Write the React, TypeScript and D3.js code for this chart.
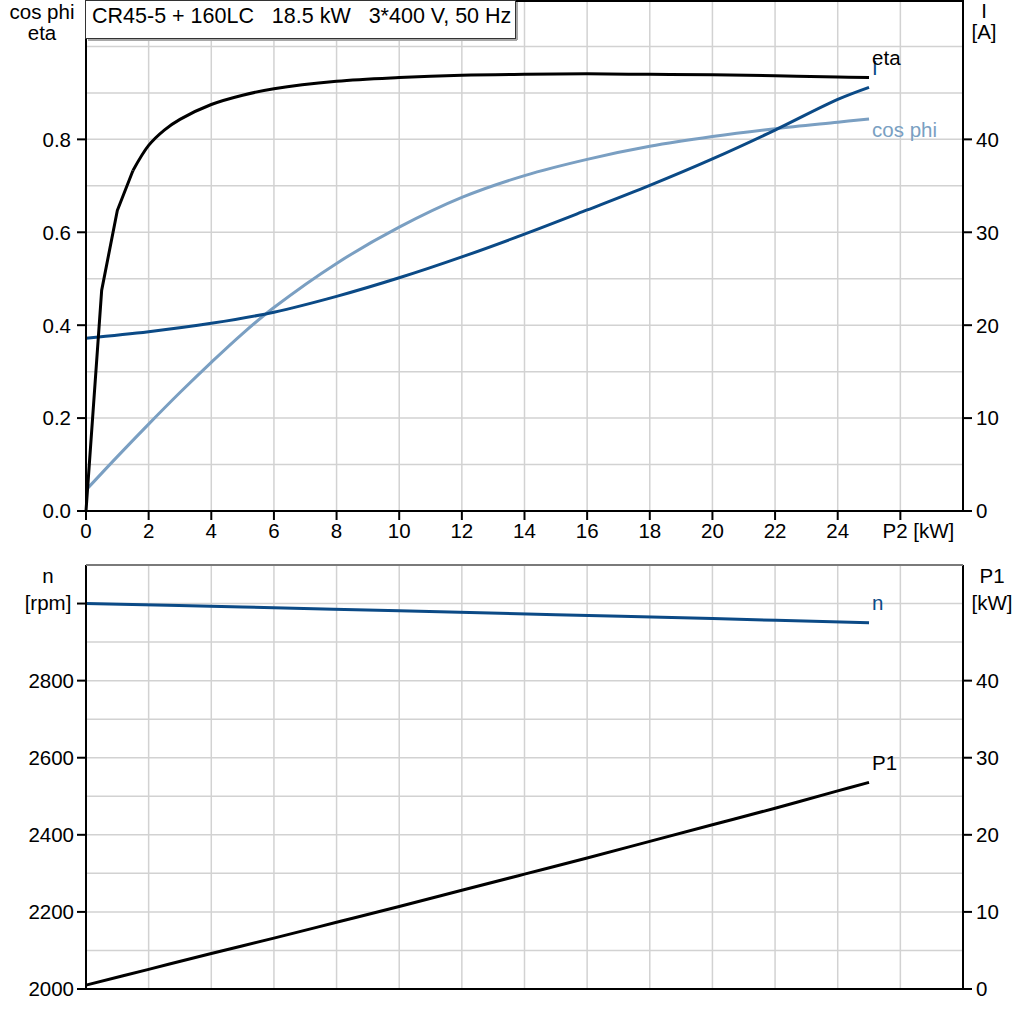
import * as d3 from 'd3'

const FONT = '"Liberation Sans", Arial, sans-serif'
const DARK = '#0b4a86'
const LIGHT = '#7a9fc2'
const GRID = '#d2d2d2'

const title = 'CR45-5 + 160LC   18.5 kW   3*400 V, 50 Hz'

// x axis (P2 in kW)
const xTicks = [0, 2, 4, 6, 8, 10, 12, 14, 16, 18, 20, 22, 24]
const xGrid = [2, 4, 6, 8, 10, 12, 14, 16, 18, 20, 22, 24, 26]

// top panel axes
const etaTicks = [0, 0.2, 0.4, 0.6, 0.8]
const etaGrid = [0.1, 0.2, 0.3, 0.4, 0.5, 0.6, 0.7, 0.8, 0.9, 1.0]
const currentTicks = [0, 10, 20, 30, 40]

// bottom panel axes
const rpmTicks = [2000, 2200, 2400, 2600, 2800]
const rpmGrid = [2100, 2200, 2300, 2400, 2500, 2600, 2700, 2800, 2900, 3000]
const p1Ticks = [0, 10, 20, 30, 40]

// eta curve
const etaP2 = [0, 0.5, 1, 1.5, 2, 2.5, 3, 4, 5, 6, 8, 10, 12, 14, 16, 18, 20, 22, 24, 25]
const etaVal = [0, 0.475, 0.647, 0.733, 0.787, 0.82, 0.843, 0.875, 0.895, 0.909, 0.925, 0.933, 0.938, 0.94, 0.941, 0.94, 0.939, 0.937, 0.934, 0.933]

// cos phi curve
const cosP2 = [0, 1, 2, 3, 4, 5, 6, 8, 10, 12, 14, 16, 18, 20, 22, 24, 25]
const cosVal = [0.045, 0.117, 0.187, 0.255, 0.32, 0.382, 0.438, 0.533, 0.611, 0.675, 0.722, 0.757, 0.785, 0.806, 0.823, 0.837, 0.844]

// current I [A]
const curP2 = [0, 2, 4, 6, 8, 10, 12, 14, 16, 18, 20, 22, 24, 25]
const curVal = [18.6, 19.3, 20.2, 21.4, 23.1, 25.1, 27.35, 29.8, 32.4, 35.05, 37.9, 41.0, 44.3, 45.6]

// speed n [rpm]
const nP2 = [0, 5, 10, 15, 20, 25]
const nVal = [3000, 2991, 2981, 2971, 2961, 2950]

// input power P1 [kW]
const p1P2 = [0, 2, 4, 6, 8, 10, 12, 14, 16, 18, 20, 22, 24, 25]
const p1Val = [0.5, 2.55, 4.6, 6.6, 8.65, 10.7, 12.8, 14.9, 17.0, 19.15, 21.3, 23.45, 25.7, 26.8]

const L = 86
const R = 963
const T1 = 0
const B1 = 511
const T2 = 565
const B2 = 989
const FS = 20.5

const x = d3.scaleLinear().domain([0, 28]).range([L, R])
const yEta = d3.scaleLinear().domain([0, 1.1]).range([B1, T1])
const yCur = d3.scaleLinear().domain([0, 55]).range([B1, T1])
const yN = d3.scaleLinear().domain([2000, 3100]).range([B2, T2])
const yP1 = d3.scaleLinear().domain([0, 55]).range([B2, T2])

function path(xs: number[], ys: number[], sy: d3.ScaleLinear<number, number>, curve: d3.CurveFactory = d3.curveCatmullRom) {
  const pts = xs.map((v, i) => [v, ys[i]] as [number, number])
  return d3.line<[number, number]>()
    .x(d => x(d[0]))
    .y(d => sy(d[1]))
    .curve(curve)(pts) || ''
}

const lastOf = (a: number[]) => a[a.length - 1]

// the steep start of eta is drawn as straight segments, the rest smooth
const KINK = 3

export default function App() {
  const txt = { fontFamily: FONT, fontSize: FS, fill: '#000' }
  const xEnd = x(lastOf(etaP2))

  return (
    <svg width={1024} height={1024} style={{ position: 'absolute', left: 0, top: 0, background: '#fff' }}>
      {/* grid */}
      <g stroke={GRID} strokeWidth={1.5}>
        {xGrid.map(v => (
          <g key={'gx' + v}>
            <line x1={x(v)} x2={x(v)} y1={T1} y2={B1} />
            <line x1={x(v)} x2={x(v)} y1={T2} y2={B2} />
          </g>
        ))}
        {etaGrid.map(v => <line key={'ge' + v} x1={L} x2={R} y1={yEta(v)} y2={yEta(v)} />)}
        {rpmGrid.map(v => <line key={'gn' + v} x1={L} x2={R} y1={yN(v)} y2={yN(v)} />)}
      </g>

      {/* curves */}
      <g fill="none" strokeWidth={3} strokeLinejoin="round" strokeLinecap="butt">
        <path d={path(cosP2, cosVal, yEta)} stroke={LIGHT} />
        <path d={path(curP2, curVal, yCur)} stroke={DARK} />
        <path d={path(etaP2.slice(0, KINK + 1), etaVal.slice(0, KINK + 1), yEta, d3.curveLinear)} stroke="#000" />
        <path d={path(etaP2.slice(KINK), etaVal.slice(KINK), yEta)} stroke="#000" />
        <path d={path(nP2, nVal, yN)} stroke={DARK} />
        <path d={path(p1P2, p1Val, yP1)} stroke="#000" />
      </g>

      {/* curve labels */}
      <text {...txt} fill={DARK} x={xEnd + 3} y={yCur(lastOf(curVal)) - 12}>I</text>
      <text {...txt} x={xEnd + 3} y={yEta(lastOf(etaVal)) - 13}>eta</text>
      <text {...txt} fill={LIGHT} x={xEnd + 3} y={yEta(lastOf(cosVal)) + 18}>cos phi</text>
      <text {...txt} fill={DARK} x={xEnd + 3} y={yN(lastOf(nVal)) - 13}>n</text>
      <text {...txt} x={xEnd + 3} y={yP1(lastOf(p1Val)) - 12}>P1</text>

      {/* frames */}
      <g stroke="#000" strokeWidth={2}>
        <line x1={L} x2={R} y1={T1 + 1} y2={T1 + 1} />
        <line x1={L} x2={L} y1={T1} y2={B1} />
        <line x1={R} x2={R} y1={T1} y2={B1} />
        <line x1={L - 1} x2={R + 1} y1={B1} y2={B1} />
        <line x1={L} x2={L} y1={T2} y2={B2} />
        <line x1={R} x2={R} y1={T2} y2={B2} />
        <line x1={L - 1} x2={R + 1} y1={B2} y2={B2} />
      </g>
      <line x1={L} x2={R} y1={T2} y2={T2} stroke="#7a7a7a" strokeWidth={2} />

      {/* ticks */}
      <g stroke="#000" strokeWidth={2}>
        {etaTicks.map(v => <line key={'te' + v} x1={L - 9} x2={L} y1={yEta(v)} y2={yEta(v)} />)}
        {currentTicks.map(v => <line key={'tc' + v} x1={R} x2={R + 9} y1={yCur(v)} y2={yCur(v)} />)}
        {[...xTicks, 26].map(v => <line key={'tx' + v} x1={x(v)} x2={x(v)} y1={B1} y2={B1 + 9} />)}
        {rpmTicks.concat([3000]).map(v => <line key={'tn' + v} x1={L - 9} x2={L} y1={yN(v)} y2={yN(v)} />)}
        {p1Ticks.map(v => <line key={'tp' + v} x1={R} x2={R + 9} y1={yP1(v)} y2={yP1(v)} />)}
      </g>
      {etaTicks.map(v => (
        <text key={'le' + v} {...txt} x={L - 15} y={yEta(v)} dy="0.36em" textAnchor="end">{v.toFixed(1)}</text>
      ))}
      {currentTicks.map(v => (
        <text key={'lc' + v} {...txt} x={R + 13} y={yCur(v)} dy="0.36em">{v}</text>
      ))}
      {xTicks.map(v => (
        <text key={'lx' + v} {...txt} x={x(v)} y={B1 + 27} textAnchor="middle">{v}</text>
      ))}
      <text {...txt} x={x(26) + 18} y={B1 + 27} textAnchor="middle">P2 [kW]</text>
      {rpmTicks.map(v => (
        <text key={'ln' + v} {...txt} x={L - 12} y={yN(v)} dy="0.36em" textAnchor="end">{v}</text>
      ))}
      {p1Ticks.map(v => (
        <text key={'lp' + v} {...txt} x={R + 13} y={yP1(v)} dy="0.36em">{v}</text>
      ))}

      {/* axis titles */}
      <text {...txt} x={42} y={19} textAnchor="middle">cos phi</text>
      <text {...txt} x={42} y={40} textAnchor="middle">eta</text>
      <text {...txt} x={984} y={18} textAnchor="middle">I</text>
      <text {...txt} x={984} y={39} textAnchor="middle">[A]</text>
      <text {...txt} x={48} y={583} textAnchor="middle">n</text>
      <text {...txt} x={48} y={yN(3000) + 6} textAnchor="middle">[rpm]</text>
      <text {...txt} x={992} y={583} textAnchor="middle">P1</text>
      <text {...txt} x={992} y={yP1(50) + 6} textAnchor="middle">[kW]</text>

      {/* title box */}
      <line x1={L + 2} x2={517} y1={40} y2={40} stroke="#a8a8a8" strokeWidth={2} />
      <line x1={517} x2={517} y1={2} y2={40} stroke="#a8a8a8" strokeWidth={2} />
      <rect x={L - 0.5} y={0.5} width={430} height={38} fill="#fff" stroke="#333" strokeWidth={1} />
      <text {...txt} fontSize={21.5} x={92} y={23} style={{ whiteSpace: 'pre' }}>{title}</text>
    </svg>
  )
}
